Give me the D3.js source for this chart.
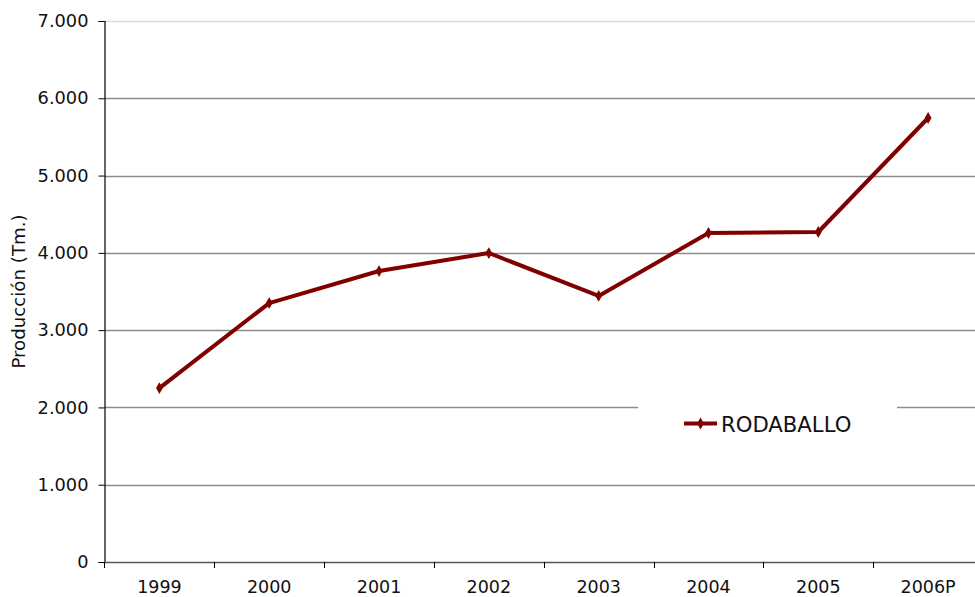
<!DOCTYPE html>
<html>
<head>
<meta charset="utf-8">
<script src="https://cdn.jsdelivr.net/npm/d3@7"></script>
<style>
html, body { margin: 0; padding: 0; background: #fff; }
svg { display: block; font-family: "DejaVu Sans", Verdana, sans-serif; }
</style>
</head>
<body>
<svg id="chart" width="975" height="597"></svg>
<script>
const categories = ["1999", "2000", "2001", "2002", "2003", "2004", "2005", "2006P"];
const values = [2250, 3350, 3765, 3998, 3442, 4257, 4270, 5745];
const yTicks = [0, 1000, 2000, 3000, 4000, 5000, 6000, 7000];
const seriesName = "RODABALLO";
const yTitle = "Producción (Tm.)";

(function () {
const svg = d3.select("#chart");
const pLeft = 104.5, pRight = 983, pTop = 21, pBottom = 562;

const x = d3.scaleBand().domain(categories).range([pLeft, pRight]).padding(0);
const y = d3.scaleLinear().domain([0, 7000]).range([pBottom, pTop]);
const fmt = v => d3.format(",")(v).replace(/,/g, ".");

// gridlines
svg.append("g").selectAll("line").data(yTicks.filter(d => d > 0)).join("line")
  .attr("x1", pLeft).attr("x2", 975)
  .attr("y1", d => Math.round(y(d)) + 0.5).attr("y2", d => Math.round(y(d)) + 0.5)
  .attr("stroke", d => d === 7000 ? "#d9d9d9" : "#8c8c8c")
  .attr("stroke-width", 1.3);

// y axis
const yAxis = d3.axisLeft(y).tickValues(yTicks).tickFormat(fmt).tickSize(6).tickPadding(10);
const gy = svg.append("g").attr("transform", `translate(${pLeft},0)`).call(yAxis);
gy.select(".domain").attr("stroke", "#000").attr("stroke-width", 1.2);
gy.selectAll(".tick line").attr("stroke", "#000");
gy.selectAll(".tick text").attr("font-size", 17.8).attr("fill", "#111").attr("font-family", "DejaVu Sans");

// x axis
const xAxis = d3.axisBottom(x).tickSize(0).tickPadding(19);
const gx = svg.append("g").attr("transform", `translate(0,${pBottom})`).call(xAxis);
gx.select(".domain").attr("stroke", "#555").attr("stroke-width", 1.3);
gx.selectAll(".tick text").attr("font-size", 17.5).attr("fill", "#111").attr("font-family", "DejaVu Sans");
// boundary ticks
svg.append("g").selectAll("line").data(categories.slice(1)).join("line")
  .attr("x1", d => Math.round(x(d)) + 0.5).attr("x2", d => Math.round(x(d)) + 0.5)
  .attr("y1", pBottom).attr("y2", pBottom + 6)
  .attr("stroke", "#000").attr("stroke-width", 1);
svg.append("line").attr("x1", pLeft).attr("x2", pLeft).attr("y1", pBottom).attr("y2", pBottom + 6).attr("stroke", "#000");

// y title
svg.append("text")
  .attr("transform", `translate(25,${(pTop + pBottom) / 2}) rotate(-90)`)
  .attr("text-anchor", "middle")
  .attr("font-size", 18.2).attr("fill", "#111")
  .text(yTitle);

// line
const cx = d => x(d) + x.bandwidth() / 2;
const data = categories.map((c, i) => ({c, v: values[i]}));
svg.append("path").datum(data)
  .attr("fill", "none").attr("stroke", "#800000").attr("stroke-width", 4)
  .attr("stroke-linejoin", "round")
  .attr("d", d3.line().x(d => cx(d.c)).y(d => y(d.v)));
const diamond = d3.symbol().type(d3.symbolDiamond).size(40);
svg.append("g").selectAll("path").data(data).join("path")
  .attr("transform", d => `translate(${cx(d.c)},${y(d.v)})`)
  .attr("d", diamond).attr("fill", "#800000");

// legend
const lg = svg.append("g");
lg.append("rect").attr("x", 638).attr("y", 395).attr("width", 259).attr("height", 60).attr("fill", "#fff");
lg.append("line").attr("x1", 684).attr("x2", 717).attr("y1", 423.5).attr("y2", 423.5)
  .attr("stroke", "#800000").attr("stroke-width", 4);
lg.append("path").attr("transform", "translate(700.5,423.5)").attr("d", diamond).attr("fill", "#800000");
lg.append("text").attr("x", 721).attr("y", 432).attr("font-size", 21.2).attr("fill", "#111").text(seriesName);
})();
</script>
</body>
</html>
